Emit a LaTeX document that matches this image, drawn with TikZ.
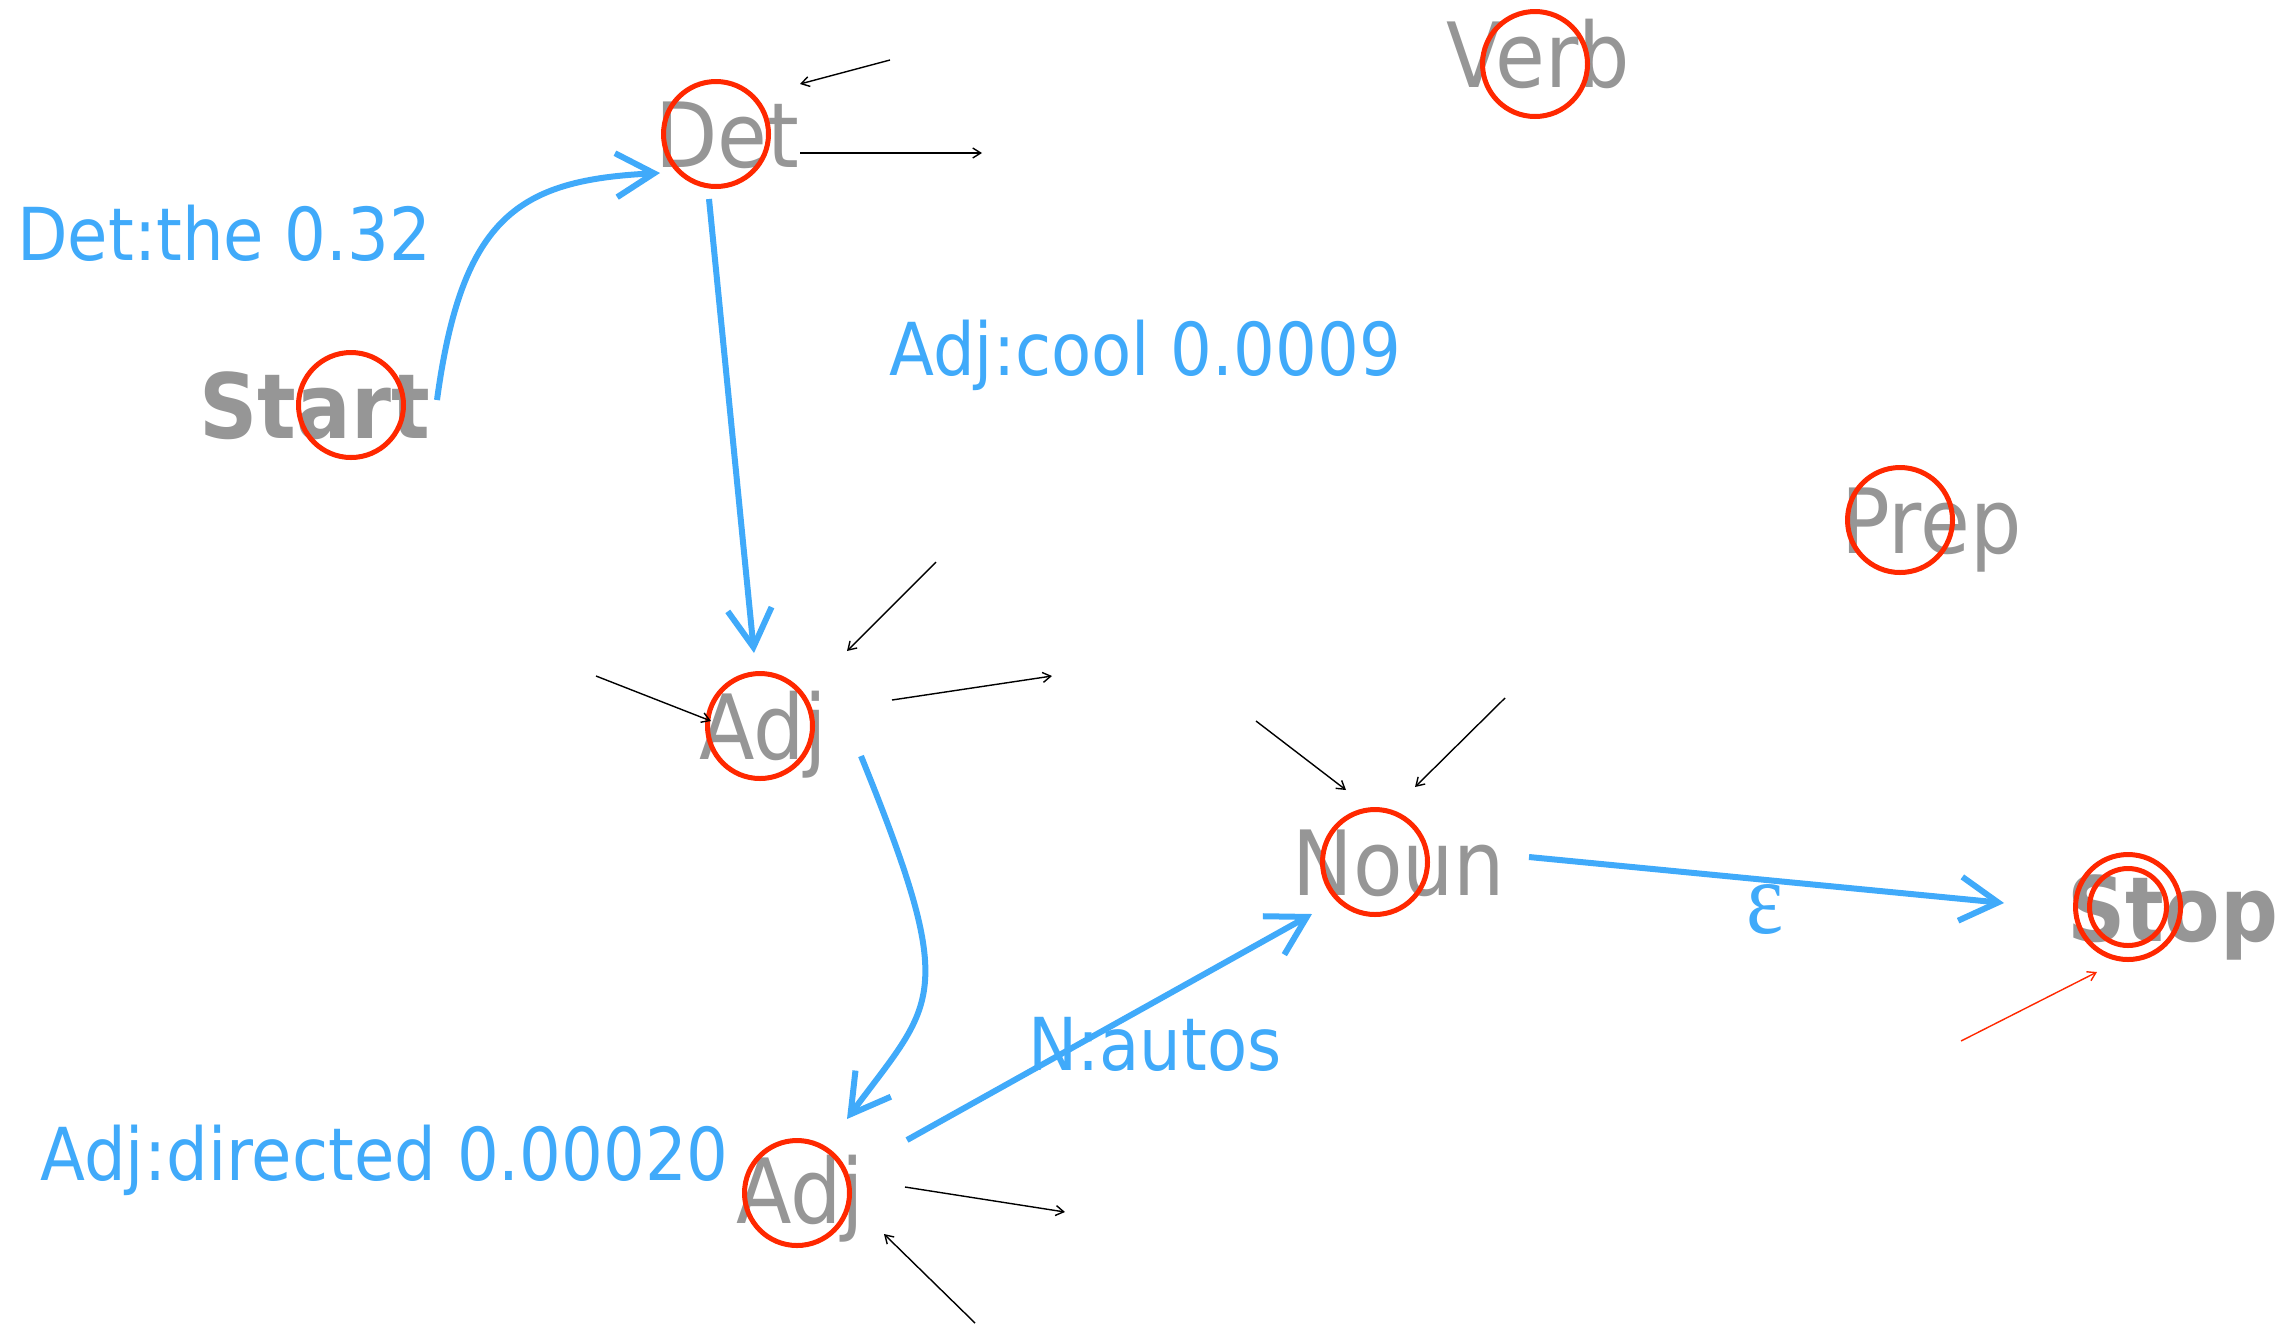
\documentclass[tikz,border=0pt]{standalone}
\usepackage{fontspec}
\setmainfont{DejaVu Sans}[FakeStretch=0.9]
\newfontfamily\epsfont{Liberation Serif}[FakeStretch=0.85]
\usetikzlibrary{arrows.meta,calc}
\definecolor{tgray}{RGB}{150,150,150}
\definecolor{tblue}{RGB}{64,170,250}
\definecolor{tred}{RGB}{255,40,0}
\begin{document}
\begin{tikzpicture}[x=0.5pt,y=-0.5pt,
  state/.style={circle,draw=tred,line width=2.5pt,minimum size=52.5pt,inner sep=0pt},
  instate/.style={circle,draw=tred,line width=2.5pt,minimum size=38.5pt,inner sep=0pt},
  word/.style={text=tgray,font=\fontsize{45}{54}\selectfont,inner sep=0pt,anchor=base west},
  bword/.style={word,font=\fontsize{45}{54}\selectfont\bfseries},
  lab/.style={text=tblue,font=\fontsize{36.5}{44}\selectfont,inner sep=0pt,anchor=base west},
  blu/.style={draw=tblue,line width=3pt,-{Straight Barb[length=19pt,width=22pt]}},
  thin/.style={draw=black,line width=0.7pt,-{Straight Barb[length=4pt,width=5pt]}},
  thinred/.style={draw=tred,line width=0.7pt,-{Straight Barb[length=4pt,width=5pt]}}]
\useasboundingbox (0,0) rectangle (2290,1324);
% words
\node[bword] (tstart) at (199,438) {Start};
\node[word] (tdet) at (655,167) {Det};
\node[word] (tverb) at (1446,87) {Verb};
\node[word] (tprep) at (1841,553) {Prep};
\node[word] (tadja) at (699,759) {Adj};
\node[word] (tnoun) at (1292,895) {Noun};
\node[bword] (tstop) at (2067,941) {Stop};
\node[word] (tadjb) at (736,1223) {Adj};
% state circles
\node[state] (start) at (351,405) {};
\node[state] (det) at (716,134) {};
\node[state] (verb) at (1535,64) {};
\node[state] (prep) at (1900,520) {};
\node[state] (adja) at (760,726) {};
\node[state] (noun) at (1375,862) {};
\node[state] (stop) at (2128,907) {};
\node[instate] (stopin) at (2128,907) {};
\node[state] (adjb) at (797,1193) {};
% labels
\node[lab] (l1) at (17,260) {Det:the 0.32};
\node[lab] (l2) at (889,375) {Adj:cool 0.0009};
\node[lab] (l3) at (40,1180) {Adj:directed 0.00020};
\node[lab] (l4) at (1028,1070) {N:autos};
\node[text=tblue,inner sep=0pt,anchor=base,font=\fontsize{52}{60}\selectfont\epsfont] (l5) at (1765,933) {ε};
% ports
\coordinate (p1) at (437,400); \coordinate (p2) at (660,173);
\coordinate (p3) at (709,199); \coordinate (p4) at (754,653);
\coordinate (p5) at (861,756); \coordinate (p6) at (847,1119);
\coordinate (p7) at (907,1140); \coordinate (p8) at (1312,914);
\coordinate (p9) at (1529,857); \coordinate (p10) at (2004,903);
% blue transitions
\draw[blu] (p1) .. controls (462,215) and (520,180) .. (p2);
\draw[blu] (p3) -- (p4);
\draw[blu] (p5) .. controls (960,1000) and (935,1000) .. (p6);
\draw[blu] (p7) -- (p8);
\draw[blu] (p9) -- (p10);
% thin arrows
\coordinate (a1) at (890,60);   \coordinate (b1) at (800,84);
\coordinate (a2) at (800,153);  \coordinate (b2) at (982,153);
\coordinate (a3) at (936,562);  \coordinate (b3) at (847,651);
\coordinate (a4) at (596,676);  \coordinate (b4) at (711,721);
\coordinate (a5) at (892,700);  \coordinate (b5) at (1052,676);
\coordinate (a6) at (1256,721); \coordinate (b6) at (1346,790);
\coordinate (a7) at (1505,698); \coordinate (b7) at (1415,787);
\coordinate (a8) at (905,1187); \coordinate (b8) at (1065,1212);
\coordinate (a9) at (975,1323); \coordinate (b9) at (884,1234);
\coordinate (a10) at (1961,1041); \coordinate (b10) at (2097,972);
\draw[thin] (a1) -- (b1);
\draw[thin] (a2) -- (b2);
\draw[thin] (a3) -- (b3);
\draw[thin] (a4) -- (b4);
\draw[thin] (a5) -- (b5);
\draw[thin] (a6) -- (b6);
\draw[thin] (a7) -- (b7);
\draw[thin] (a8) -- (b8);
\draw[thin] (a9) -- (b9);
\draw[thinred] (a10) -- (b10);
\end{tikzpicture}
\end{document}
